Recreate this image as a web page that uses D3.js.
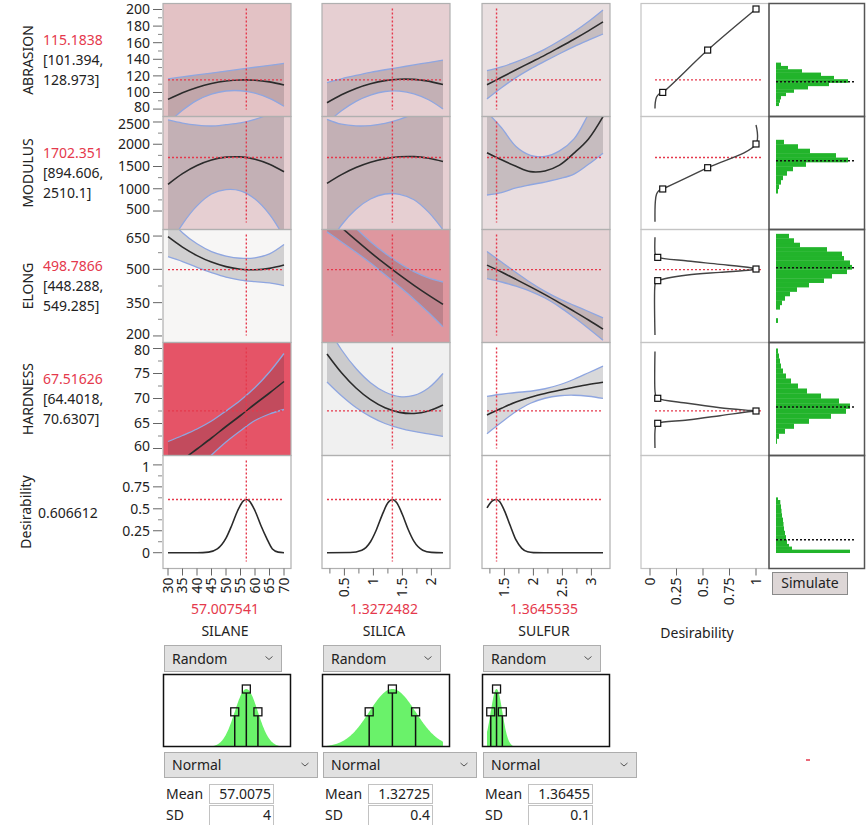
<!DOCTYPE html>
<html lang="en">
<head>
<meta charset="utf-8">
<title>Prediction Profiler</title>
<script src="https://cdn.jsdelivr.net/npm/d3@7"></script>
<style>
  html, body { margin: 0; padding: 0; background: #fff; }
  svg { display: block; font-family: "Noto Sans", "Open Sans", sans-serif; font-size: 14px; }
</style>
</head>
<body>
<svg id="chart" width="866" height="825"></svg>
<script>
// ---------- factors ----------
const factorNames = ["SILANE", "SILICA", "SULFUR"];
const factorCurrent = [57.007541, 1.3272482, 1.3645535];
const factorCurrentText = ["57.007541", "1.3272482", "1.3645535"];
const factorDomain = [[30, 70], [0.2, 2.2], [1.2, 3.2]];
const factorTicks = [[30, 35, 40, 45, 50, 55, 60, 65, 70], [0.5, 1, 1.5, 2], [1.5, 2, 2.5, 3]];
const factorMinorTicks = [[], [0.25, 0.75, 1.25, 1.75], [1.25, 1.75, 2.25, 2.75]];
const factorMean = [57.0075, 1.32725, 1.36455];
const factorMeanText = ["57.0075", "1.32725", "1.36455"];
const factorSD = [4, 0.4, 0.1];
const factorSDText = ["4", "0.4", "0.1"];

// ---------- responses ----------
const responseNames = ["ABRASION", "MODULUS", "ELONG", "HARDNESS"];
const responseCurrent = [115.1838, 1702.351, 498.7866, 67.51626];
const responseCurrentText = ["115.1838", "1702.351", "498.7866", "67.51626"];
const responseLower = [101.394, 894.606, 448.288, 64.4018];
const responseUpper = [128.973, 2510.1, 549.285, 70.6307];
const responseDomain = [[79.5, 201.2], [242, 2511], [202, 657], [60, 80.2]];
const responseTicks = [[80, 100, 120, 140, 160, 180, 200], [500, 1000, 1500, 2000, 2500], [200, 350, 500, 650], [60, 65, 70, 75, 80]];
const desirabilityCurrent = 0.606612;
const desirabilityDomain = [-0.1, 1.05];
const desirabilityTicks = [0, 0.25, 0.5, 0.75, 1];

// factor settings at which the profile traces are read
const gridSilane = [30, 35, 40, 45, 50, 55, 60, 65, 70];
const gridSilica = [0.2, 0.45, 0.7, 0.95, 1.2, 1.45, 1.7, 1.95, 2.2];
const gridSulfur = [1.2, 1.45, 1.7, 1.95, 2.2, 2.45, 2.7, 2.95, 3.2];

// profile traces: [SILANE, SILICA, SULFUR]
const abrasionPred = [
  [91.7, 99.7, 106.1, 110.8, 113.8, 115.1, 114.8, 112.8, 109.1],
  [87.6, 97.2, 104.9, 110.5, 114.3, 116.0, 115.8, 113.7, 109.6],
  [109.3, 118.3, 127.4, 136.2, 145.0, 154.5, 164.2, 174.3, 185.0]];
const abrasionUpper = [
  [116.5, 118.8, 121.1, 123.4, 125.8, 128.1, 130.4, 132.7, 135.0],
  [112.0, 116.5, 120.5, 124.2, 127.4, 130.3, 133.2, 136.1, 139.0],
  [126.3, 130.8, 136.9, 144.0, 152.3, 162.3, 173.2, 185.6, 199.5]];
const abrasionLower = [
  [63.0, 78.5, 90.5, 98.0, 101.8, 102.1, 99.2, 92.9, 83.4],
  [63.2, 77.9, 89.3, 96.8, 101.2, 101.7, 98.4, 91.3, 80.2],
  [92.3, 105.8, 117.9, 128.4, 137.7, 146.7, 155.2, 163.0, 170.5]];

const modulusPred = [
  [1100, 1341, 1523, 1646, 1710, 1716, 1664, 1552, 1382],
  [1122, 1318, 1476, 1595, 1676, 1718, 1722, 1687, 1614],
  [1810, 1650, 1505, 1385, 1400, 1530, 1800, 2120, 2620]];
const modulusUpper = [
  [2545, 2475, 2430, 2410, 2440, 2480, 2560, 2680, 2850],
  [2560, 2450, 2412, 2420, 2470, 2560, 2690, 2900, 3150],
  [2720, 2370, 1950, 1750, 1725, 1850, 2120, 2680, 3300]];
const modulusLower = [
  [-345, 207, 616, 882, 980, 952, 768, 424, -86],
  [-316, 186, 540, 770, 882, 876, 754, 475, 78],
  [860, 915, 1020, 1090, 1150, 1225, 1330, 1550, 1800]];

const elongPred = [
  [647, 600.1, 562, 532.7, 512.4, 500.8, 498.2, 504.4, 519.4],
  [748.7, 688.6, 631.2, 576.4, 524.2, 474.7, 427.8, 383.6, 342.0],
  [519, 488, 455, 421, 386, 349, 311, 272, 231]];
const elongUpper = [
  [737, 665, 615, 580, 560, 550, 552, 570, 612],
  [828.7, 753.6, 685.2, 624.4, 572.7, 527.7, 489.8, 461.6, 443.0],
  [580, 533, 486, 441, 401, 367, 338, 310, 281]];
const elongLower = [
  [557, 535.2, 509, 485.4, 464.8, 451.6, 444.4, 438.8, 426.8],
  [668.7, 623.6, 577.2, 528.4, 475.7, 421.7, 365.8, 305.6, 241.0],
  [458, 443, 424, 401, 371, 331, 284, 234, 181]];

const hardnessPred = [
  [55.4, 57.7, 59.9, 62.1, 64.4, 66.6, 68.9, 71.1, 73.4],
  [78.9, 75.15, 72.1, 69.77, 68.15, 67.23, 67.01, 67.51, 68.71],
  [66.7, 68.05, 69.3, 70.25, 71.0, 71.65, 72.25, 72.8, 73.24]];
const hardnessUpper = [
  [61.4, 62.6, 63.9, 65.5, 67.5, 69.65, 72.2, 75.3, 79.0],
  [84.5, 79.75, 76.0, 73.17, 71.3, 70.38, 70.61, 72.11, 75.01],
  [70.43, 70.85, 71.2, 71.45, 71.95, 72.75, 73.85, 75.15, 76.47]];
const hardnessLower = [
  [49.4, 52.8, 55.9, 58.7, 61.3, 63.55, 65.6, 66.9, 67.8],
  [73.3, 70.55, 68.2, 66.37, 65.0, 64.08, 63.41, 62.91, 62.41],
  [62.97, 65.25, 67.4, 69.05, 70.05, 70.55, 70.65, 70.45, 70.01]];

// overall desirability traces
const desirSilaneX = [30, 40, 44, 47, 50, 52, 54, 56, 57.007541, 58, 60, 62, 64, 66, 68, 70];
const desirSilaneY = [0, 0.0003, 0.007, 0.043, 0.166, 0.313, 0.478, 0.591, 0.6066, 0.591, 0.478, 0.313, 0.166, 0.043, 0.007, 0.0003];
const desirSilicaX = [0.2, 0.6, 0.8, 0.95, 1.05, 1.15, 1.25, 1.3272482, 1.4, 1.5, 1.6, 1.7, 1.85, 2.0, 2.2];
const desirSilicaY = [0, 0.002, 0.028, 0.125, 0.259, 0.428, 0.568, 0.6066, 0.572, 0.435, 0.265, 0.129, 0.029, 0.004, 0];
const desirSulfurX = [1.2, 1.25, 1.3, 1.3645535, 1.42, 1.5, 1.6, 1.7, 1.8, 1.9, 2.0, 2.4, 3.2];
const desirSulfurY = [0.51, 0.56, 0.595, 0.6066, 0.58, 0.48, 0.31, 0.145, 0.05, 0.01, 0.001, 0, 0];

// desirability functions (desirability, response value); marks = handle points
const abrasionDesirD = [0.047, 0.05, 0.062, 0.085, 0.12, 0.544, 1.0];
const abrasionDesirV = [80.8, 88, 94.5, 98.2, 100.1, 151.1, 200.6];
const abrasionDesirMarks = [4, 5, 6];
const modulusDesirD = [0.047, 0.05, 0.062, 0.085, 0.12, 0.544, 1.0, 1.0];
const modulusDesirV = [260, 700, 880, 960, 995, 1473, 2006, 2433];
const modulusDesirMarks = [4, 5, 6];
const elongDesirD = [0.047, 0.047, 0.055, 0.073, 0.354, 0.66, 0.95, 1.0, 0.95, 0.66, 0.354, 0.073, 0.055, 0.047, 0.047];
const elongDesirV = [645, 575, 560, 554, 537.5, 522.6, 507, 501.5, 497, 486.6, 474.5, 449, 443, 430, 204];
const elongDesirMarks = [3, 7, 11];
const hardnessDesirD = [0.047, 0.047, 0.055, 0.073, 0.354, 0.66, 0.95, 1.0, 0.95, 0.66, 0.354, 0.073, 0.055, 0.047, 0.047];
const hardnessDesirV = [79.4, 71.5, 70.5, 70.04, 69.04, 68.16, 67.6, 67.5, 67.4, 66.56, 65.7, 65.04, 64.6, 63.5, 60.1];
const hardnessDesirMarks = [3, 7, 11];

// simulated output histograms (bin edges, counts) and their means
const abrasionHistEdges = [84, 88, 92, 96, 100, 104, 108, 112, 116, 120, 124, 128, 132, 136];
const abrasionHistCounts = [3, 4, 5, 10, 18, 32, 53, 72, 58, 45, 26, 12, 5];
const modulusHistEdges = [900, 1000, 1100, 1200, 1300, 1400, 1500, 1600, 1700, 1800, 1900, 2000, 2100];
const modulusHistCounts = [2, 3, 5, 7, 11, 17, 30, 72, 60, 34, 22, 8];
const elongHistEdges = [260, 280, 300, 320, 340, 360, 380, 400, 420, 440, 460, 480, 500, 520, 540, 560, 580, 600, 620, 640, 660];
const elongHistCounts = [2, 0, 0, 4, 6, 9, 14, 21, 33, 48, 56, 71, 76, 74, 68, 66, 51, 24, 18, 13];
const hardnessHistEdges = [61, 62, 63, 64, 65, 66, 67, 68, 69, 70, 71, 72, 73, 74, 75, 76, 77, 78, 79, 80];
const hardnessHistCounts = [1, 3, 9, 18, 33, 55, 70, 74, 63, 45, 31, 22, 15, 10, 7, 5, 4, 3, 2];
const desirHistEdges = [0, 0.035, 0.07, 0.1, 0.15, 0.2, 0.25, 0.3, 0.35, 0.4, 0.45, 0.5, 0.55, 0.6, 0.63];
const desirHistCounts = [74, 16, 13, 11, 10, 9, 8, 7.5, 7, 6, 5.5, 5, 4.3, 2];
const histMeans = [112.9, 1630, 507, 68.3, 0.148];

// ---------- layout & styles ----------
const RED = "#e5394c";
const INK = "#222";
const BAND = "rgba(40,40,50,0.18)";
const CI_LINE = "#8fa6e0";
const HIST_GREEN = "#22b42b";
const DENS_GREEN = "#6af26a";
const panelFill = [
  ["#e3c2c5", "#e6cfd2", "#e9dfe0"],
  ["#e6cfd2", "#e6cfd2", "#e9dddf"],
  ["#f7f6f5", "#de979f", "#e6d3d5"],
  ["#e55467", "#f0f0f0", "#ffffff"],
  ["#ffffff", "#ffffff", "#ffffff"]
];
const colLeft = [163, 322, 482];
const panelW = 128, panelH = 113, gridTop = 3.5;
const rowTop = (i) => gridTop + panelH * i;
const desirColLeft = 641, simColLeft = 769, simColRight = 864.5;
const gridBottom = rowTop(5);

const svg = d3.select("#chart");
const defs = svg.append("defs");
const curve = d3.curveCatmullRom.alpha(0.5);

const xScale = factorDomain.map((d, j) => d3.scaleLinear().domain(d).range([colLeft[j] + 5, colLeft[j] + 121]));
const yScale = [...responseDomain, desirabilityDomain].map((d, i) =>
  d3.scaleLinear().domain(d).range([rowTop(i) + 106, rowTop(i) + 5]));
const dScale = d3.scaleLinear().domain([0, 1]).range([650, 756]);
const hScale = d3.scaleLinear().domain([0, 80]).range([776, 856]);

function pairs(xs, ys) { return xs.map((v, k) => [v, ys[k]]); }
function clipFor(id, x, y, w, h) {
  defs.append("clipPath").attr("id", id).append("rect")
    .attr("x", x).attr("y", y).attr("width", w).attr("height", h);
  return `url(#${id})`;
}
function dotted(g, x1, y1, x2, y2, color, w = 1.4) {
  g.append("line").attr("x1", x1).attr("y1", y1).attr("x2", x2).attr("y2", y2)
    .attr("stroke", color).attr("stroke-width", w).attr("stroke-dasharray", "2,2");
}

const layerBg = svg.append("g");
const layerPlot = svg.append("g");
const layerFrame = svg.append("g");
const layerText = svg.append("g").attr("fill", INK);

// ---------- profiler panels ----------
const predSets = [abrasionPred, modulusPred, elongPred, hardnessPred];
const upperSets = [abrasionUpper, modulusUpper, elongUpper, hardnessUpper];
const lowerSets = [abrasionLower, modulusLower, elongLower, hardnessLower];
const grids = [gridSilane, gridSilica, gridSulfur];
const desirTraceX = [desirSilaneX, desirSilicaX, desirSulfurX];
const desirTraceY = [desirSilaneY, desirSilicaY, desirSulfurY];

for (let i = 0; i < 5; i++) {
  for (let j = 0; j < 3; j++) {
    const L = colLeft[j], T = rowTop(i);
    const sx = xScale[j], sy = yScale[i];
    layerBg.append("rect").attr("x", L).attr("y", T).attr("width", panelW).attr("height", panelH)
      .attr("fill", panelFill[i][j]);
    const g = layerPlot.append("g").attr("clip-path", clipFor(`clip-${i}-${j}`, L, T, panelW, panelH));
    const line = d3.line().x((d) => sx(d[0])).y((d) => sy(d[1])).curve(curve);
    if (i < 4) {
      const gx = grids[j];
      const up = upperSets[i][j], lo = lowerSets[i][j], pr = predSets[i][j];
      const band = gx.map((v, k) => ({ x: v, lo: lo[k], hi: up[k] }));
      g.append("path").datum(band)
        .attr("d", d3.area().x((d) => sx(d.x)).y0((d) => sy(d.lo)).y1((d) => sy(d.hi)).curve(curve))
        .attr("fill", BAND);
      [up, lo].forEach((arr) => g.append("path").attr("d", line(pairs(gx, arr)))
        .attr("fill", "none").attr("stroke", CI_LINE).attr("stroke-width", 1.3));
      g.append("path").attr("d", line(pairs(gx, pr)))
        .attr("fill", "none").attr("stroke", "#2b2b2b").attr("stroke-width", 1.6);
      dotted(g, sx.range()[0], sy(responseCurrent[i]), sx.range()[1], sy(responseCurrent[i]), RED);
    } else {
      g.append("path").attr("d", d3.line().x((d) => sx(d[0])).y((d) => sy(d[1])).curve(d3.curveMonotoneX)(pairs(desirTraceX[j], desirTraceY[j])))
        .attr("fill", "none").attr("stroke", "#2b2b2b").attr("stroke-width", 1.6);
      dotted(g, sx.range()[0], sy(desirabilityCurrent), sx.range()[1], sy(desirabilityCurrent), RED);
    }
    dotted(g, sx(factorCurrent[j]), T + 5, sx(factorCurrent[j]), T + 106, RED);
    layerFrame.append("rect").attr("x", L).attr("y", T).attr("width", panelW).attr("height", panelH)
      .attr("fill", "none").attr("stroke", "#b0b0b0").attr("stroke-width", 1.2);
  }
}

// ---------- desirability function column ----------
const desirD = [abrasionDesirD, modulusDesirD, elongDesirD, hardnessDesirD];
const desirV = [abrasionDesirV, modulusDesirV, elongDesirV, hardnessDesirV];
const desirMarks = [abrasionDesirMarks, modulusDesirMarks, elongDesirMarks, hardnessDesirMarks];
for (let i = 0; i < 5; i++) {
  const T = rowTop(i);
  layerBg.append("rect").attr("x", desirColLeft).attr("y", T).attr("width", simColLeft - desirColLeft)
    .attr("height", panelH).attr("fill", "#fff");
  layerFrame.append("rect").attr("x", desirColLeft).attr("y", T).attr("width", simColLeft - desirColLeft)
    .attr("height", panelH).attr("fill", "none").attr("stroke", "#c4c4c4").attr("stroke-width", 1.2);
  if (i === 4) continue;
  const sy = yScale[i];
  const g = layerPlot.append("g").attr("clip-path", clipFor(`clip-d-${i}`, desirColLeft, T, simColLeft - desirColLeft, panelH));
  dotted(g, 655, sy(responseCurrent[i]), 761, sy(responseCurrent[i]), RED);
  const pts = pairs(desirD[i], desirV[i]);
  const line = d3.line().x((d) => dScale(d[0])).y((d) => sy(d[1])).curve(curve);
  const peak = desirMarks[i][1];
  const pieces = i < 2 ? [pts] : [pts.slice(0, peak + 1), pts.slice(peak)];
  pieces.forEach((p) => g.append("path").attr("d", line(p)).attr("fill", "none")
    .attr("stroke", "#444").attr("stroke-width", 1.4));
  desirMarks[i].forEach((k) => g.append("rect")
    .attr("x", dScale(pts[k][0]) - 3).attr("y", sy(pts[k][1]) - 3).attr("width", 6).attr("height", 6)
    .attr("fill", "#fff").attr("stroke", "#111").attr("stroke-width", 1.2));
}

// ---------- simulation histograms ----------
const histEdges = [abrasionHistEdges, modulusHistEdges, elongHistEdges, hardnessHistEdges, desirHistEdges];
const histCounts = [abrasionHistCounts, modulusHistCounts, elongHistCounts, hardnessHistCounts, desirHistCounts];
for (let i = 0; i < 5; i++) {
  const T = rowTop(i), sy = yScale[i];
  layerBg.append("rect").attr("x", simColLeft).attr("y", T).attr("width", simColRight - simColLeft)
    .attr("height", panelH).attr("fill", "#fff");
  const g = layerPlot.append("g").attr("clip-path", clipFor(`clip-h-${i}`, simColLeft, T, simColRight - simColLeft, panelH));
  histCounts[i].forEach((c, k) => {
    if (c <= 0) return;
    const y0 = sy(histEdges[i][k + 1]), y1 = sy(histEdges[i][k]);
    g.append("rect").attr("x", hScale(0)).attr("y", y0).attr("width", hScale(c) - hScale(0))
      .attr("height", y1 - y0 + 0.3).attr("fill", HIST_GREEN);
  });
  dotted(g, hScale(0), sy(histMeans[i]), hScale(0) + 80, sy(histMeans[i]), "#111", 1.6);
  layerFrame.append("rect").attr("x", simColLeft).attr("y", T).attr("width", simColRight - simColLeft)
    .attr("height", panelH).attr("fill", "none").attr("stroke", "#555").attr("stroke-width", 1.5);
}

// ---------- axes ----------
const axisG = layerText.append("g");
const axisRows = [...responseTicks, desirabilityTicks];
axisRows.forEach((ticks, i) => {
  const sy = yScale[i];
  ticks.forEach((t, k) => {
    axisG.append("line").attr("x1", 153).attr("x2", 162).attr("y1", sy(t)).attr("y2", sy(t))
      .attr("stroke", "#666").attr("stroke-width", 1);
    // labels at a shared row boundary are eased apart so neighbouring rows stay legible
    let nudge = 0;
    if (k === 0 && i < axisRows.length - 1) nudge = -2;
    if (k === ticks.length - 1 && i > 0) nudge = 2;
    axisG.append("text").attr("x", 150).attr("y", sy(t) + nudge).attr("dy", "0.35em")
      .attr("text-anchor", "end").text(t);
    if (k < ticks.length - 1) {
      const mid = (t + ticks[k + 1]) / 2;
      axisG.append("line").attr("x1", 158).attr("x2", 162).attr("y1", sy(mid)).attr("y2", sy(mid))
        .attr("stroke", "#888").attr("stroke-width", 1);
    }
  });
});

function bottomTicks(scale, major, minor) {
  minor.forEach((t) => axisG.append("line").attr("x1", scale(t)).attr("x2", scale(t))
    .attr("y1", gridBottom).attr("y2", gridBottom + 5).attr("stroke", "#777"));
  major.forEach((t) => {
    axisG.append("line").attr("x1", scale(t)).attr("x2", scale(t))
      .attr("y1", gridBottom).attr("y2", gridBottom + 7).attr("stroke", "#666");
    axisG.append("text").attr("transform", `translate(${scale(t)},${gridBottom + 9}) rotate(-90)`)
      .attr("text-anchor", "end").attr("dy", "0.35em").text(t);
  });
}
factorNames.forEach((name, j) => {
  bottomTicks(xScale[j], factorTicks[j], factorMinorTicks[j]);
  const cx = colLeft[j] + 62;
  layerText.append("text").attr("x", cx).attr("y", 609).attr("dy", "0.35em").attr("text-anchor", "middle")
    .attr("fill", RED).text(factorCurrentText[j]);
  layerText.append("text").attr("x", cx).attr("y", 631).attr("dy", "0.35em").attr("text-anchor", "middle")
    .text(name);
});
bottomTicks(dScale, desirabilityTicks, []);
layerText.append("text").attr("x", 697).attr("y", 633).attr("dy", "0.35em").attr("text-anchor", "middle")
  .text("Desirability");

// ---------- row labels ----------
responseNames.forEach((name, i) => {
  const cy = rowTop(i) + panelH / 2;
  layerText.append("text").attr("transform", `translate(28,${cy}) rotate(-90)`)
    .attr("text-anchor", "middle").attr("dy", "0.35em").text(name);
  layerText.append("text").attr("x", 43).attr("y", cy - 20).attr("dy", "0.35em").attr("fill", RED)
    .text(responseCurrentText[i]);
  layerText.append("text").attr("x", 43).attr("y", cy).attr("dy", "0.35em").text(`[${responseLower[i]},`);
  layerText.append("text").attr("x", 43).attr("y", cy + 20).attr("dy", "0.35em").text(`${responseUpper[i]}]`);
});
{
  const cy = rowTop(4) + panelH / 2;
  layerText.append("text").attr("transform", `translate(26,${cy}) rotate(-90)`)
    .attr("text-anchor", "middle").attr("dy", "0.35em").text("Desirability");
  layerText.append("text").attr("x", 38).attr("y", cy + 1).attr("dy", "0.35em").text(String(desirabilityCurrent));
}

// ---------- Simulate button ----------
svg.append("rect").attr("x", 772.5).attr("y", 572.5).attr("width", 75).attr("height", 22)
  .attr("fill", "#ddd6d6").attr("stroke", "#8a8a8a").attr("stroke-width", 1);
svg.append("text").attr("x", 810).attr("y", 583.5).attr("dy", "0.35em").attr("text-anchor", "middle")
  .attr("fill", INK).text("Simulate");

// ---------- simulator controls ----------
function dropdown(x, y, w, h, label) {
  svg.append("rect").attr("x", x + 0.5).attr("y", y + 0.5).attr("width", w).attr("height", h)
    .attr("fill", "#e1e1e1").attr("stroke", "#adadad");
  svg.append("text").attr("x", x + 8).attr("y", y + h / 2 + 1).attr("dy", "0.35em").attr("fill", INK).text(label);
  const cx = x + w - 12, cy = y + h / 2;
  svg.append("path").attr("d", `M${cx - 3.5},${cy - 1.5}L${cx},${cy + 1.5}L${cx + 3.5},${cy - 1.5}`)
    .attr("fill", "none").attr("stroke", "#555").attr("stroke-width", 1);
}
factorNames.forEach((name, j) => {
  const L = colLeft[j];
  dropdown(L + 1, 645, 117, 26, "Random");

  const bTop = 674, bBot = 747;
  const sx = xScale[j];
  const m = factorMean[j], s = factorSD[j];
  const [lo, hi] = factorDomain[j];
  const dens = (v) => Math.exp(-0.5 * ((v - m) / s) ** 2);
  const hy = d3.scaleLinear().domain([0, 1]).range([bBot, bBot - 58]);
  const xs = d3.range(0, 241).map((k) => lo + (hi - lo) * k / 240);
  svg.append("rect").attr("x", L).attr("y", bTop).attr("width", panelW).attr("height", bBot - bTop).attr("fill", "#fff");
  const g = svg.append("g").attr("clip-path", clipFor(`clip-dist-${j}`, L, bTop, panelW, bBot - bTop));
  g.append("path").datum(xs)
    .attr("d", d3.area().x((v) => sx(v)).y0(bBot).y1((v) => hy(dens(v))))
    .attr("fill", DENS_GREEN);
  [m - s, m, m + s].forEach((v) => {
    const yy = hy(dens(v));
    g.append("line").attr("x1", sx(v)).attr("x2", sx(v)).attr("y1", bBot).attr("y2", yy + 4)
      .attr("stroke", "#111").attr("stroke-width", 1.5);
    g.append("rect").attr("x", sx(v) - 4).attr("y", yy - 4).attr("width", 8).attr("height", 8)
      .attr("fill", "none").attr("stroke", "#111").attr("stroke-width", 1.3);
  });
  svg.append("rect").attr("x", L + 0.5).attr("y", bTop + 0.5).attr("width", panelW - 1).attr("height", bBot - bTop - 1)
    .attr("fill", "none").attr("stroke", "#111").attr("stroke-width", 1.5);

  dropdown(L + 1, 752, 153, 25, "Normal");

  const fields = [["Mean", factorMeanText[j], 784, 19], ["SD", factorSDText[j], 805, 21]];
  fields.forEach(([lab, val, fy, fh]) => {
    svg.append("text").attr("x", L + 3).attr("y", fy + 10).attr("dy", "0.35em").attr("fill", INK).text(lab);
    svg.append("rect").attr("x", L + 46.5).attr("y", fy + 0.5).attr("width", 64).attr("height", fh)
      .attr("fill", "#fff").attr("stroke", "#c2c2c2");
    svg.append("text").attr("x", L + 108).attr("y", fy + 10).attr("dy", "0.35em").attr("text-anchor", "end")
      .attr("fill", INK).text(val);
  });
});

// stray cursor mark
svg.append("line").attr("x1", 806).attr("x2", 810).attr("y1", 760).attr("y2", 760)
  .attr("stroke", RED).attr("stroke-width", 1.5);
</script>
</body>
</html>
